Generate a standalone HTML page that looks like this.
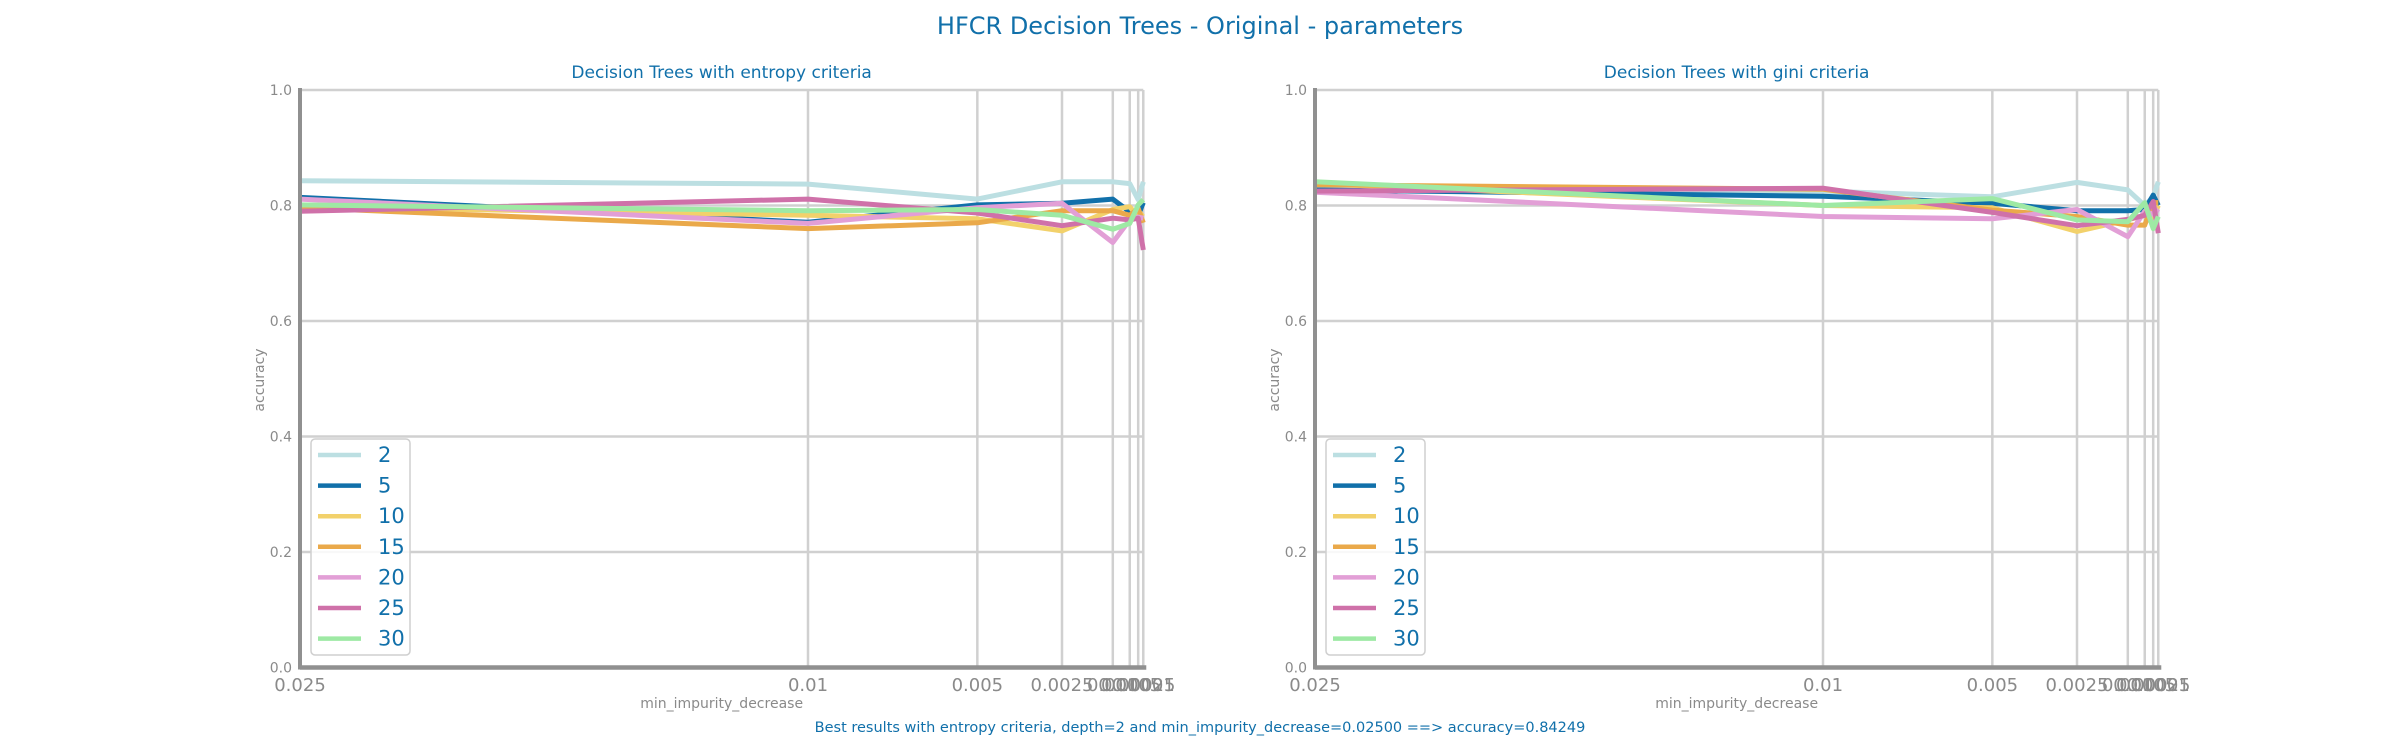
<!DOCTYPE html>
<html><head><meta charset="utf-8"><style>
html,body{margin:0;padding:0;background:#fff;}
svg{display:block;font-family:"DejaVu Sans","Liberation Sans",sans-serif;}
</style></head><body>
<svg id="chart" width="2400" height="750" viewBox="0 0 2400 750">
<text x="1200" y="34" text-anchor="middle" font-size="24" fill="#1170aa">HFCR Decision Trees - Original - parameters</text>
<text x="1200" y="732" text-anchor="middle" font-size="14.5" fill="#1170aa">Best results with entropy criteria, depth=2 and min_impurity_decrease=0.02500 ==&gt; accuracy=0.84249</text>
</svg>
<script>
const xValues = [0.025, 0.01, 0.005, 0.0025, 0.001, 0.0005, 0.00025, 0.0001];
const xTickLabels = ["0.025","0.01","0.005","0.0025","0.001","0.0005","0.00025","0.0001"];
const yTicks = [0, 0.2, 0.4, 0.6, 0.8, 1.0];
const yTickLabels = ["0.0","0.2","0.4","0.6","0.8","1.0"];
const depths = ["2","5","10","15","20","25","30"];
const entropy2  = [0.843, 0.837, 0.811, 0.841, 0.841, 0.838, 0.810, 0.841];
const entropy5  = [0.814, 0.771, 0.801, 0.804, 0.811, 0.789, 0.783, 0.805];
const entropy10 = [0.798, 0.783, 0.777, 0.756, 0.793, 0.798, 0.780, 0.787];
const entropy15 = [0.796, 0.760, 0.770, 0.791, 0.791, 0.783, 0.795, 0.770];
const entropy20 = [0.811, 0.769, 0.796, 0.804, 0.736, 0.775, 0.780, 0.778];
const entropy25 = [0.790, 0.811, 0.787, 0.765, 0.778, 0.775, 0.778, 0.723];
const entropy30 = [0.801, 0.791, 0.793, 0.783, 0.759, 0.769, 0.801, 0.810];
const gini2  = [0.826, 0.825, 0.815, 0.840, 0.827, 0.800, 0.815, 0.841];
const gini5  = [0.827, 0.816, 0.804, 0.791, 0.791, 0.793, 0.818, 0.800];
const gini10 = [0.838, 0.800, 0.796, 0.755, 0.775, 0.783, 0.780, 0.800];
const gini15 = [0.836, 0.828, 0.792, 0.781, 0.766, 0.766, 0.805, 0.805];
const gini20 = [0.823, 0.781, 0.777, 0.793, 0.746, 0.790, 0.785, 0.794];
const gini25 = [0.825, 0.830, 0.788, 0.765, 0.776, 0.783, 0.807, 0.752];
const gini30 = [0.841, 0.800, 0.812, 0.775, 0.772, 0.805, 0.760, 0.781];
const colors = ["#bcdfe2","#1170aa","#f2d16b","#eaa94a","#e29fd6","#cf71a9","#9ee9a4"];

const NS = "http://www.w3.org/2000/svg";
const svg = document.getElementById("chart");
function mk(tag, attrs, parent){
  const e = document.createElementNS(NS, tag);
  for (const k in attrs) e.setAttribute(k, attrs[k]);
  (parent||svg).appendChild(e);
  return e;
}
const Y0 = 667.5, Y1 = 90;
function yScale(v){ return Y0 - v*(Y0-Y1); }

function drawPanel(ox, title, series, key){
  const xScale = v => ox + (0.025 - v)*(508/0.015);
  const right = xScale(0.0001);
  const g = mk("g", {});
  
  
  const t = mk("text", {x:(ox+right)/2, y:78, "text-anchor":"middle", "font-size":17, fill:"#1170aa"}, g);
  t.textContent = title;
  
  
  yTicks.forEach((v,i)=>{
    const gl = mk("line", {x1:ox, x2:right, y1:yScale(v), y2:yScale(v), stroke:"#d0d0d0", "stroke-width":2.5}, g);
    
    
    const tl = mk("text", {x:ox-8, y:yScale(v)+5, "text-anchor":"end", "font-size":14, fill:"#8a8a8a"}, g);
    tl.textContent = yTickLabels[i];
    
    
  });
  xValues.forEach((v,i)=>{
    const gl = mk("line", {x1:xScale(v), x2:xScale(v), y1:Y1, y2:Y0, stroke:"#d0d0d0", "stroke-width":2.5}, g);
    
    
    const tl = mk("text", {x:xScale(v), y:691, "text-anchor":"middle", "font-size":18, fill:"#8a8a8a"}, g);
    tl.textContent = xTickLabels[i];
    
    
  });
  const xt = mk("text", {x:(ox+right)/2, y:708, "text-anchor":"middle", "font-size":14, fill:"#8a8a8a"}, g);
  xt.textContent = "min_impurity_decrease";
  
  
  const yt = mk("text", {x:0, y:0, transform:`translate(${ox-36},380) rotate(-90)`, "text-anchor":"middle", "font-size":14, fill:"#8a8a8a"}, g);
  yt.textContent = "accuracy";
  
  
  series.forEach((arr,si)=>{
    const pts = arr.map((a,i)=>xScale(xValues[i]).toFixed(1)+","+yScale(a).toFixed(1)).join(" ");
    const pl = mk("polyline", {points:pts, fill:"none", stroke:colors[si], "stroke-width":5, "stroke-linejoin":"round"}, g);
    
    
  });
  const ls = mk("line", {x1:ox, x2:ox, y1:Y1-2, y2:Y0+2, stroke:"#909090", "stroke-width":4}, g);
  
  
  const bs = mk("line", {x1:ox, x2:right+3, y1:Y0, y2:Y0, stroke:"#909090", "stroke-width":4.5}, g);
  
  
  const lg = mk("g", {}, g);
  
  
  mk("rect", {x:ox+11, y:439, width:99, height:216, rx:4, fill:"#fff", "fill-opacity":0.85, stroke:"#cfcfcf", "stroke-width":1.5}, lg);
  depths.forEach((d,i)=>{
    const yy = 455 + i*30.6;
    const e = mk("g", {}, lg);
    
    
    mk("line", {x1:ox+18, x2:ox+61, y1:yy, y2:yy, stroke:colors[i], "stroke-width":4.5}, e);
    const tx = mk("text", {x:ox+78, y:yy+7, "font-size":21, fill:"#1170aa"}, e);
    tx.textContent = d;
  });
}
drawPanel(300, "Decision Trees with entropy criteria", [entropy2,entropy5,entropy10,entropy15,entropy20,entropy25,entropy30], "entropy");
drawPanel(1315, "Decision Trees with gini criteria", [gini2,gini5,gini10,gini15,gini20,gini25,gini30], "gini");
</script>
</body></html>
